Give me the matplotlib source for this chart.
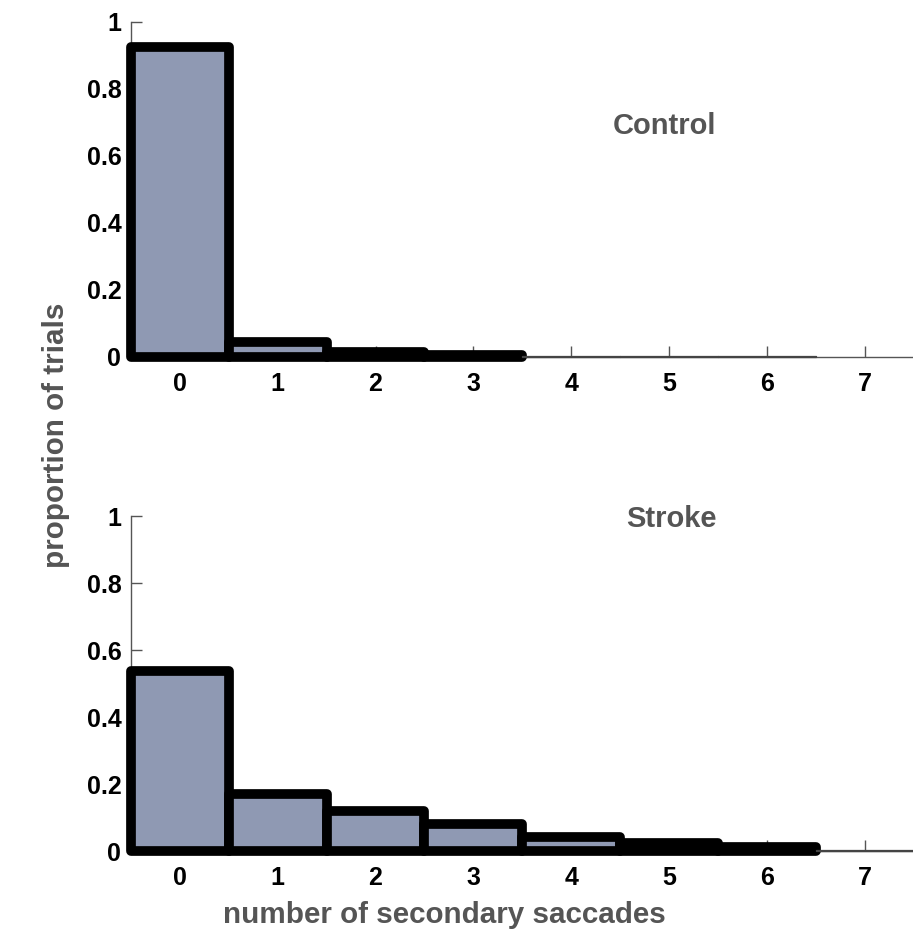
import numpy as np
import matplotlib.pyplot as plt

# ------------------------------------------------
# data: proportion of trials per number of secondary saccades
# ------------------------------------------------
n_saccades = np.array([0, 1, 2, 3, 4, 5, 6, 7])
control = [0.925, 0.045, 0.016, 0.005, 0.002, 0.002, 0.002, 0.0]
stroke = [0.537, 0.170, 0.120, 0.080, 0.042, 0.024, 0.012, 0.004]

bar_color = "#8f99b3"
spine_color = "#555555"
label_color = "#555555"

plt.rcParams["font.family"] = ["Liberation Sans", "DejaVu Sans"]
plt.rcParams["font.weight"] = "bold"

fig = plt.figure(figsize=(9.13, 9.36), dpi=100)
ax_top = fig.add_axes([0.1435, 0.6186, 0.857, 0.3579])
ax_bot = fig.add_axes([0.1435, 0.0908, 0.857, 0.3579])


def draw(ax, values, name, name_xy):
    # thick black outline on the visible bars, thin one on the near-empty ones
    for x, v in zip(n_saccades, values):
        if v <= 0:
            continue
        thick = v > 0.0045
        ax.bar(x, v, width=1.0, color=bar_color,
               edgecolor="black" if thick else "#444444",
               linewidth=7 if thick else 0.9,
               joinstyle="round", capstyle="round", zorder=3, clip_on=False)
    ax.set_xlim(-0.5, 7.5)
    ax.set_ylim(0, 1)
    ax.set_xticks(n_saccades)
    ax.set_yticks([0, 0.2, 0.4, 0.6, 0.8, 1])
    ax.set_yticklabels(["0", "0.2", "0.4", "0.6", "0.8", "1"])
    for s in ["top", "right"]:
        ax.spines[s].set_visible(False)
    for s in ["left", "bottom"]:
        ax.spines[s].set_color(spine_color)
        ax.spines[s].set_linewidth(1.0)
    ax.tick_params(direction="in", length=8, width=1, color=spine_color,
                   labelsize=18, labelcolor="black")
    ax.tick_params(axis="x", pad=11)
    ax.tick_params(axis="y", pad=7)
    ax.text(name_xy[0], name_xy[1], name, fontsize=21, fontweight="bold",
            color=label_color, ha="center", va="center",
            transform=ax.transData)


draw(ax_top, control, "Control", (4.95, 0.69))
draw(ax_bot, stroke, "Stroke", (5.03, 0.99))

fig.text(0.061, 0.535, "proportion of trials", rotation=90, fontsize=21.3,
         fontweight="bold", color=label_color, ha="center", va="center")
fig.text(0.487, 0.022, "number of secondary saccades", fontsize=21.3,
         fontweight="bold", color=label_color, ha="center", va="center")

fig.savefig("out.png", dpi=100)
